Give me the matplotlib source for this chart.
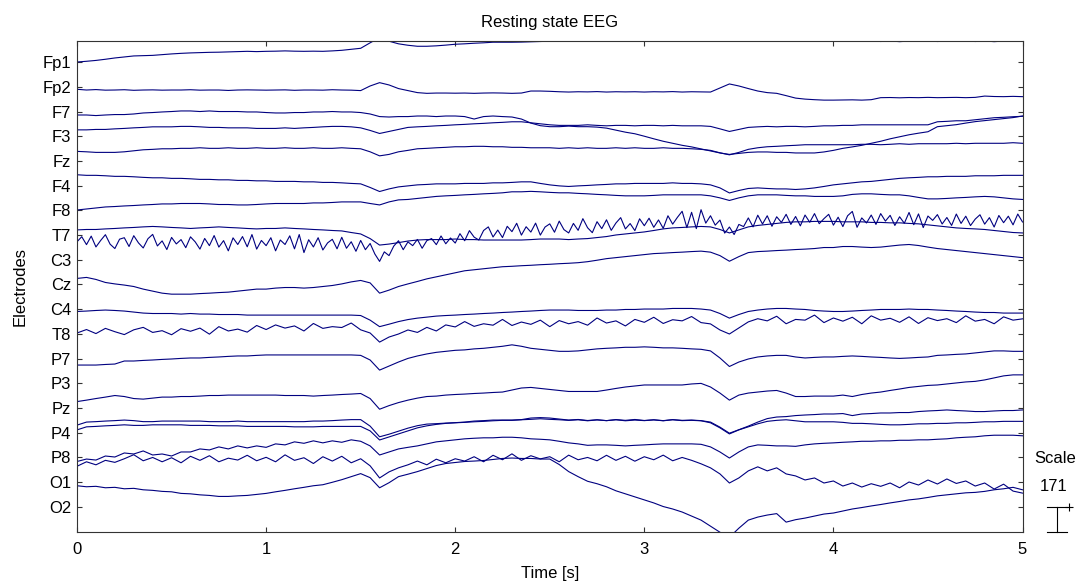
import numpy as np
import matplotlib.pyplot as plt

plt.rcParams['font.family'] = ['Liberation Sans', 'DejaVu Sans']

# samples every 0.05 s (C3 every 0.025 s), microvolts relative to channel baseline
time = np.arange(101) / 20
time_c3 = np.arange(201) / 40

channels = ['Fp1', 'Fp2', 'F7', 'F3', 'Fz', 'F4', 'F8', 'T7', 'C3', 'Cz',
            'C4', 'T8', 'P7', 'P3', 'Pz', 'P4', 'P8', 'O1', 'O2']
scale_uv = 171

fp1 = [2, 7, 13, 21, 30, 37, 44, 46, 48, 53, 58,
       62, 65, 67, 69, 70, 72, 74, 76, 74, 76,
       77, 79, 77, 76, 77, 76, 79, 83, 90, 97,
       135, 170, 146, 128, 118, 111, 111, 114, 119, 125,
       128, 132, 135, 139, 139, 139, 140, 142, 144, 146,
       147, 149, 151, 153, 154, 156, 160, 163, 165, 167,
       168, 170, 172, 174, 174, 174, 174, 174, 174, 174,
       174, 174, 174, 172, 170, 167, 161, 156, 153, 153,
       149, 149, 146, 150, 144, 148, 143, 147, 145, 149,
       144, 147, 145, 150, 144, 148, 143, 147, 146, 149]
fp2 = [-16, -21, -18, -22, -21, -19, -23, -21, -20, -22, -21,
       -21, -19, -22, -21, -21, -24, -21, -20, -21, -22,
       -21, -20, -23, -21, -21, -22, -19, -21, -22, -25,
       7, 30, 14, -11, -25, -39, -44, -42, -42, -43,
       -42, -44, -42, -41, -42, -44, -42, -28, -28, -30,
       -33, -35, -33, -34, -32, -35, -33, -34, -33, -35,
       -33, -34, -32, -35, -33, -34, -35, -7, 21, 7,
       -11, -28, -39, -44, -60, -77, -84, -88, -91, -91,
       -90, -89, -91, -88, -74, -73, -75, -73, -74, -72,
       -74, -73, -72, -74, -72, -63, -66, -67, -65, -67]
f7 = [-23, -23, -27, -23, -20, -20, -16, -9, -6, -2, 1,
      5, 5, 1, 5, 1, 1, 1, -2, -2, -6,
      -9, -9, -6, -6, -2, -2, 1, -2, -2, -6,
      -16, -34, -37, -34, -34, -30, -30, -34, -30, -30,
      -34, -51, -34, -30, -34, -37, -51, -79, -97, -104,
      -104, -100, -104, -104, -107, -114, -128, -142, -153, -170,
      -188, -205, -219, -233, -244, -258, -272, -286, -296, -289,
      -282, -279, -279, -282, -282, -286, -286, -286, -279, -268,
      -254, -244, -233, -219, -205, -188, -174, -160, -149, -139,
      -104, -97, -90, -79, -69, -62, -55, -48, -41, -30]
f3 = [45, 45, 48, 48, 52, 55, 59, 62, 66, 66, 66,
      69, 69, 66, 62, 62, 59, 59, 59, 55, 55,
      55, 59, 55, 59, 62, 66, 69, 69, 66, 59,
      41, 20, 34, 48, 62, 66, 69, 73, 76, 80,
      83, 87, 90, 94, 97, 101, 101, 94, 87, 80,
      76, 76, 76, 80, 76, 73, 76, 76, 73, 76,
      76, 73, 76, 73, 73, 73, 69, 52, 34, 48,
      62, 66, 69, 66, 69, 69, 66, 69, 73, 73,
      76, 76, 80, 80, 80, 80, 80, 80, 80, 80,
      101, 104, 108, 108, 115, 122, 129, 132, 136, 139]
fz = [67, 64, 60, 60, 60, 64, 71, 78, 81, 85, 85,
      88, 88, 92, 88, 88, 92, 88, 88, 92, 88,
      88, 92, 88, 88, 92, 88, 88, 92, 88, 85,
      64, 36, 46, 64, 74, 85, 88, 92, 95, 99,
      99, 102, 102, 99, 99, 95, 95, 92, 92, 92,
      88, 92, 88, 92, 88, 88, 92, 88, 92, 88,
      88, 92, 88, 88, 85, 81, 74, 57, 43, 60,
      81, 92, 99, 102, 106, 109, 113, 113, 113, 113,
      113, 113, 116, 116, 113, 116, 120, 116, 120, 120,
      120, 120, 123, 120, 123, 123, 123, 123, 127, 123]
f4 = [76, 72, 72, 69, 65, 65, 62, 58, 55, 55, 51,
      51, 48, 44, 44, 41, 41, 37, 37, 34, 34,
      30, 30, 30, 27, 27, 23, 23, 20, 16, 13,
      -12, -40, -22, -8, -1, 6, 9, 13, 13, 13,
      16, 16, 16, 20, 20, 23, 27, 27, 16, 6,
      -1, -5, -1, 2, 6, 9, 13, 13, 16, 16,
      16, 16, 20, 16, 16, 13, 6, -15, -50, -33,
      -19, -15, -19, -22, -22, -26, -22, -15, -5, 6,
      13, 20, 27, 30, 37, 44, 51, 55, 58, 62,
      62, 65, 65, 65, 69, 69, 69, 72, 72, 72]
f8 = [3, 10, 17, 24, 27, 31, 34, 38, 41, 45, 45,
      48, 48, 48, 45, 41, 41, 38, 38, 41, 45,
      48, 48, 48, 48, 52, 52, 55, 59, 59, 59,
      48, 38, 59, 73, 76, 83, 90, 97, 101, 104,
      108, 111, 115, 118, 122, 129, 129, 132, 129, 125,
      122, 122, 118, 115, 111, 108, 104, 101, 101, 101,
      104, 108, 108, 108, 108, 108, 101, 87, 69, 87,
      101, 108, 108, 108, 104, 101, 101, 97, 97, 97,
      101, 111, 115, 115, 111, 108, 108, 101, 90, 80,
      80, 83, 87, 90, 94, 97, 94, 87, 80, 76]
t7 = [36, 39, 39, 43, 46, 50, 53, 57, 60, 57, 53,
      50, 46, 50, 53, 57, 53, 50, 46, 43, 46,
      46, 50, 46, 43, 39, 36, 32, 29, 18, 8,
      -24, -69, -62, -52, -41, -34, -31, -31, -31, -27,
      -31, -31, -34, -34, -34, -34, -34, -31, -27, -27,
      -27, -31, -27, -24, -17, -10, 1, 8, 15, 22,
      32, 43, 50, 53, 57, 60, 57, 39, 15, 36,
      57, 67, 74, 81, 88, 92, 92, 95, 95, 95,
      92, 92, 92, 88, 88, 85, 85, 81, 78, 71,
      64, 57, 50, 46, 43, 39, 32, 25, 18, 15]
c3 = [125, 160, 105, 164, 89, 134, 174, 108, 78, 143,
      153, 92, 167, 117, 82, 146, 176, 96, 131, 71,
      155, 110, 140, 84, 159, 124, 74, 148, 98, 168,
      88, 133, 62, 152, 106, 161, 90, 175, 74, 134,
      98, 153, 62, 137, 106, 166, 76, 175, 50, 139,
      89, 153, 68, 117, 142, 76, 156, 80, 125, 59,
      134, 70, 113, 40, -11, 55, 29, 95, 132, 70,
      124, 98, 141, 80, 133, 147, 105, 165, 111, 151,
      116, 181, 132, 202, 157, 137, 203, 228, 158, 206,
      154, 232, 195, 253, 171, 229, 192, 254, 171, 227,
      249, 191, 268, 209, 186, 252, 204, 285, 222, 188,
      264, 216, 277, 204, 255, 292, 214, 251, 202, 284,
      236, 288, 225, 276, 218, 305, 247, 294, 336, 223,
      329, 216, 347, 254, 305, 240, 275, 185, 227, 175,
      245, 230, 290, 228, 309, 248, 305, 232, 298, 259,
      315, 245, 300, 235, 310, 260, 320, 250, 285, 315,
      240, 295, 230, 305, 335, 225, 290, 255, 310, 245,
      320, 268, 308, 238, 298, 253, 328, 243, 318, 223,
      303, 273, 313, 248, 293, 238, 317, 252, 302, 237,
      282, 312, 247, 292, 227, 307, 257, 302, 242, 317,
      262]
cz = [42, 49, 35, 14, 4, -4, -14, -32, -46, -60, -67,
      -67, -67, -63, -60, -56, -53, -46, -39, -32, -32,
      -25, -21, -21, -25, -21, -14, -7, 4, 18, 28,
      11, -60, -39, -14, 4, 21, 39, 53, 67, 81,
      95, 102, 109, 116, 123, 126, 130, 133, 137, 140,
      144, 147, 151, 158, 168, 179, 186, 193, 200, 207,
      214, 217, 221, 224, 228, 231, 224, 200, 161, 193,
      221, 228, 231, 235, 238, 242, 245, 249, 256, 256,
      263, 263, 259, 256, 259, 266, 273, 277, 270, 259,
      249, 242, 235, 228, 221, 214, 207, 200, 193, 186]
c4 = [-16, -13, -9, -6, -9, -13, -20, -27, -30, -30, -30,
      -34, -30, -34, -34, -37, -37, -37, -41, -41, -41,
      -41, -41, -41, -41, -41, -41, -41, -41, -41, -44,
      -76, -121, -104, -86, -72, -62, -55, -48, -44, -41,
      -37, -34, -30, -27, -23, -20, -16, -13, -9, -6,
      -6, -6, -9, -9, -9, -6, -6, -2, -2, 1,
      1, 1, 5, 5, 5, 1, -6, -30, -62, -37,
      -16, -6, 1, 5, 5, 1, -2, -9, -13, -16,
      -16, -13, -9, -6, -2, -2, -2, 1, -2, -2,
      -6, -9, -13, -16, -20, -23, -23, -27, -27, -27]
t8 = [6, 30, 2, 38, 15, -5, 28, 45, 10, 22, -6,
      36, 18, 40, -2, 50, 20, 33, 12, 58, 30,
      62, 40, 55, 20, 72, 38, 50, 44, 75, 28,
      6, -57, -22, -1, 27, 10, 45, 20, 62, 48,
      85, 52, 70, 60, 100, 58, 82, 66, 95, 50,
      92, 70, 85, 60, 110, 75, 90, 55, 100, 80,
      115, 72, 98, 90, 120, 78, 69, 27, -1, 41,
      83, 105, 90, 122, 70, 100, 95, 130, 78, 110,
      88, 115, 70, 125, 95, 108, 80, 118, 72, 112,
      92, 105, 78, 125, 88, 100, 70, 118, 95, 104]
p7 = [-45, -45, -45, -41, -38, -17, -17, -13, -10, -6, -3,
      1, 4, 4, 8, 11, 15, 18, 18, 22, 25,
      25, 25, 25, 25, 25, 25, 25, 25, 25, 22,
      -10, -80, -52, -24, 1, 18, 32, 43, 50, 57,
      60, 67, 71, 78, 85, 95, 85, 71, 64, 57,
      50, 50, 53, 60, 67, 71, 74, 78, 78, 81,
      78, 74, 74, 71, 67, 64, 53, 4, -55, -24,
      -3, 11, 18, 22, 22, 11, 4, 8, 11, 11,
      15, 18, 15, 11, 8, 4, 1, 4, 8, 11,
      22, 25, 29, 32, 39, 46, 53, 53, 50, 50]
p3 = [-127, -117, -106, -96, -85, -92, -106, -110, -103, -96, -96,
      -92, -92, -89, -85, -85, -82, -82, -82, -82, -82,
      -82, -85, -85, -85, -89, -85, -82, -78, -75, -71,
      -106, -180, -155, -134, -117, -103, -92, -89, -82, -78,
      -75, -71, -68, -64, -61, -47, -33, -29, -36, -43,
      -50, -57, -57, -57, -57, -47, -36, -26, -19, -12,
      -12, -12, -12, -12, -5, -1, -26, -68, -117, -82,
      -68, -61, -54, -50, -68, -92, -92, -89, -89, -89,
      -82, -92, -78, -68, -61, -50, -40, -29, -22, -15,
      -12, -5, 2, 9, 13, 23, 37, 51, 58, 58]
pz = [-119, -98, -95, -91, -88, -84, -88, -95, -95, -91, -91,
      -91, -91, -91, -95, -95, -95, -91, -95, -95, -95,
      -95, -95, -95, -95, -91, -91, -88, -84, -81, -81,
      -126, -200, -182, -161, -140, -123, -112, -109, -105, -102,
      -98, -91, -88, -84, -84, -84, -81, -70, -67, -70,
      -77, -84, -80, -87, -82, -88, -81, -86, -80, -87,
      -82, -88, -81, -86, -84, -88, -98, -133, -175, -151,
      -126, -98, -74, -63, -60, -53, -49, -46, -42, -42,
      -39, -53, -42, -39, -35, -35, -32, -32, -25, -21,
      -18, -14, -18, -21, -25, -25, -21, -18, -18, -14]
p4 = [19, 40, 43, 47, 50, 54, 50, 50, 54, 54, 54,
      54, 50, 50, 50, 47, 47, 47, 43, 43, 43,
      43, 43, 40, 40, 40, 43, 43, 43, 43, 43,
      12, -51, -30, -9, 12, 33, 47, 57, 64, 68,
      71, 75, 78, 82, 85, 85, 89, 92, 96, 92,
      89, 85, 89, 82, 88, 83, 89, 82, 87, 83,
      88, 82, 89, 83, 85, 82, 68, 33, -9, 19,
      40, 61, 78, 85, 89, 82, 75, 75, 75, 75,
      71, 64, 64, 61, 57, 54, 54, 57, 61, 61,
      64, 64, 68, 68, 71, 75, 75, 78, 78, 78]
p8 = [-29, -12, -19, 9, 2, 30, 23, 44, 16, 23, 9,
      37, 37, 58, 51, 72, 58, 79, 65, 79, 69,
      93, 86, 107, 97, 114, 100, 114, 104, 121, 111,
      79, 16, 37, 58, 69, 79, 93, 107, 114, 121,
      128, 132, 135, 135, 139, 139, 135, 128, 125, 121,
      111, 100, 93, 83, 86, 86, 83, 79, 83, 86,
      90, 93, 93, 93, 93, 90, 72, 37, -5, 37,
      72, 86, 83, 79, 79, 76, 86, 93, 97, 100,
      104, 107, 111, 111, 114, 114, 118, 118, 121, 121,
      125, 128, 135, 139, 142, 149, 153, 153, 153, 149]
o1 = [109, 140, 119, 150, 136, 161, 189, 147, 170, 140, 168,
      133, 178, 150, 182, 140, 165, 152, 185, 147, 171,
      140, 188, 150, 168, 128, 175, 145, 178, 133, 161,
      112, 28, 70, 98, 119, 145, 119, 158, 133, 161,
      145, 175, 140, 185, 154, 195, 150, 182, 160, 175,
      140, 186, 154, 170, 147, 185, 150, 178, 144, 175,
      154, 186, 147, 170, 150, 126, 98, 56, -7, 28,
      77, 105, 77, 98, 56, 42, 14, 28, -7, 7,
      -28, -7, -35, -12, -30, -7, -40, 0, -21, 14,
      -14, 21, -10, 7, -28, -7, -49, -15, -63, -77]
o2 = [145, 138, 141, 131, 134, 124, 127, 117, 113, 106, 103,
      92, 89, 82, 78, 71, 71, 75, 78, 85, 92,
      103, 113, 124, 134, 145, 152, 169, 187, 208, 229,
      201, 131, 166, 208, 225, 243, 264, 285, 299, 306,
      313, 316, 320, 327, 334, 337, 334, 334, 330, 330,
      292, 243, 208, 176, 159, 138, 110, 89, 68, 47,
      26, 1, -16, -37, -65, -93, -135, -177, -212, -149,
      -93, -72, -58, -48, -107, -90, -79, -65, -51, -44,
      -30, -16, -6, 5, 15, 26, 36, 47, 54, 64,
      75, 82, 89, 96, 99, 106, 117, 124, 134, 117]

eeg = [fp1, fp2, f7, f3, fz, f4, f8, t7, c3, cz,
       c4, t8, p7, p3, pz, p4, p8, o1, o2]

line_color = '#000080'
n_chan = len(channels)
fs = 12

fig = plt.figure(figsize=(10.85, 5.83), dpi=100)
ax = fig.add_axes([0.0710, 0.0875, 0.8714, 0.8427])

for i, sig in enumerate(eeg):
    offset = n_chan - i
    t = time_c3 if len(sig) == len(time_c3) else time
    ax.plot(t, offset + np.asarray(sig) / scale_uv, color=line_color, lw=0.8)

ax.set_xlim(0, 5)
ax.set_ylim(-0.025, 19.875)
ax.set_xticks(np.arange(0, 6))
ax.set_yticks(np.arange(n_chan, 0, -1))
ax.set_yticklabels(channels)
ax.tick_params(direction='in', top=True, right=True, length=3.5,
               labelsize=fs, pad=4, color='#333333')
ax.tick_params(axis='x', pad=7)
for sp in ax.spines.values():
    sp.set_color('#333333')

ax.set_title('Resting state EEG', fontsize=fs, pad=10)
ax.set_xlabel('Time [s]', fontsize=fs, labelpad=7)
ax.set_ylabel('Electrodes', fontsize=fs, labelpad=11)

# scale bar on the right (one channel spacing = scale_uv)
tr = ax.get_yaxis_transform()
y0 = ax.get_ylim()[0]
ax.plot([1.0361, 1.0361], [y0, y0 + 1], transform=tr, color='black', lw=0.8, clip_on=False)
ax.plot([1.0256, 1.0467], [y0, y0], transform=tr, color='black', lw=0.8, clip_on=False)
ax.plot([1.0256, 1.0467], [y0 + 1, y0 + 1], transform=tr, color='black', lw=0.8, clip_on=False)
ax.plot([1.049], [y0 + 1.03], transform=tr, marker='+', ms=6, mew=0.8,
        color='black', clip_on=False)
ax.text(1.0344, 2.96, 'Scale', transform=tr, ha='center', va='center', fontsize=fs)
ax.text(1.0333, 1.81, str(scale_uv), transform=tr, ha='center', va='center', fontsize=fs)

fig.savefig('out.png', dpi=100)
